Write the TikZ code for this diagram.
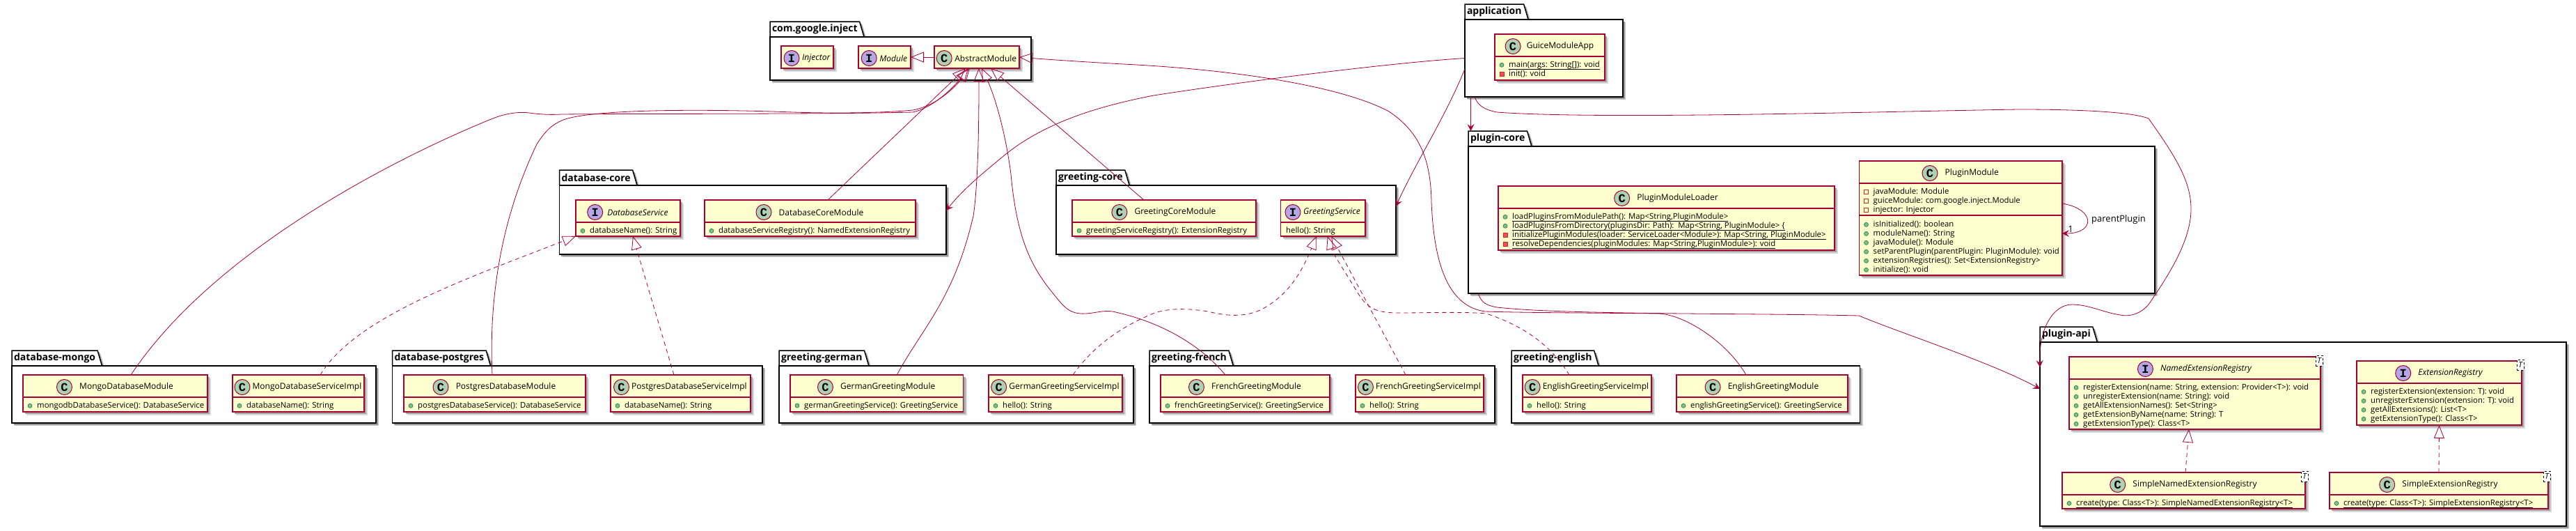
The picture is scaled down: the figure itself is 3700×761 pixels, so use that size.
\documentclass[tikz,border=0pt]{standalone}
\usepackage{fontspec}
\setmainfont{Open Sans}
\setmonofont{Liberation Mono}
\usepackage{xcolor}
\usepackage{tikz}
\usetikzlibrary{positioning,arrows.meta,shadows,backgrounds}
\definecolor{border}{HTML}{A80036}
\definecolor{clsfill}{HTML}{FEFECE}
\definecolor{spotc}{HTML}{ADD1B2}
\definecolor{spoti}{HTML}{B4A7E5}
\definecolor{pubfill}{HTML}{84BE84}
\definecolor{publine}{HTML}{038048}
\definecolor{privfill}{HTML}{F24D5C}
\definecolor{privline}{HTML}{C82930}
\newsavebox{\munderbox}
\newcommand{\munder}[1]{\sbox{\munderbox}{#1}\rlap{\rule[-3pt]{\wd\munderbox}{.9pt}}\usebox{\munderbox}}
\newcommand{\mpub}{\makebox[16pt][l]{\hspace{2.5pt}\tikz[baseline=-3.5pt]\filldraw[fill=pubfill,draw=publine,line width=.6pt] (0,0) circle[radius=3pt];}}
\newcommand{\mfld}{\makebox[16pt][l]{\hspace{2.5pt}\tikz[baseline=-3.5pt]\draw[draw=privline,line width=.8pt] (0,-3pt) rectangle (6pt,3pt);}}
\newcommand{\mprv}{\makebox[16pt][l]{\hspace{2.5pt}\tikz[baseline=-3.5pt]\filldraw[fill=privfill,draw=privline,line width=.6pt] (0,-3pt) rectangle (6pt,3pt);}}
\newcommand{\pkgnode}[6]{%
  \node[pkgtab,anchor=south west] (#1t) at (#2,#3) {#6};
  \begin{pgfonlayer}{background}
    \draw[tabline] (#1t.south west) -- (#1t.north west) -- (#1t.north east) -- ([xshift=6.5pt]#1t.south east);
  \end{pgfonlayer}
  \node[pkg,minimum width=#4pt,minimum height=#5pt,anchor=north west] (#1) at (#1t.south west) {};
}
\newcommand{\clsnode}[9]{%
  \node[cls,minimum width=#5pt,minimum height=#6pt,anchor=north west] (#1) at (#3,#4) {};
  \draw[clsline] ([yshift=-32pt]#1.north west) -- ([yshift=-32pt]#1.north east);
  \node[clsname] (#1n) at ([xshift={(22+#7)/2*1pt},yshift=-17.5pt]#1.north) {#8};
  \node[spot#2,left=#7pt of #1n] (#1s) {#2};
  \node[mem] (#1m) at ([xshift=4pt,yshift=-39pt]#1.north west) {#9};
}

\begin{document}
\begin{tikzpicture}[
  x=1pt,y=-1pt,
  pkgtab/.style={inner xsep=3pt,inner ysep=0pt,minimum height=22pt,outer sep=0pt,font=\fontsize{14}{16}\selectfont\bfseries},
  tabline/.style={draw=black,line width=1.5pt,fill=white,general shadow={fill=black!20,shadow xshift=4pt,shadow yshift=-4pt},general shadow={fill=black!40,shadow xshift=2.5pt,shadow yshift=-2.5pt}},
  pkg/.style={rectangle,draw=black,line width=1.5pt,fill=white,outer sep=0pt,inner sep=0pt,general shadow={fill=black!20,shadow xshift=4pt,shadow yshift=-4pt},general shadow={fill=black!40,shadow xshift=2.5pt,shadow yshift=-2.5pt}},
  cls/.style={rectangle,draw=border,line width=1.5pt,fill=clsfill,outer sep=0pt,inner sep=0pt,general shadow={fill=black!15,shadow xshift=5pt,shadow yshift=-5pt},general shadow={fill=black!35,shadow xshift=3pt,shadow yshift=-3pt}},
  clsline/.style={draw=border,line width=1.5pt},
  clsname/.style={inner sep=0pt,font=\fontsize{12}{14}\selectfont},
  mem/.style={anchor=north west,align=left,inner sep=0pt,font=\fontsize{11.35}{13}\selectfont},
  spotC/.style={circle,draw=border,line width=1pt,fill=spotc,minimum size=22pt,inner sep=0pt,font=\fontsize{17}{17}\ttfamily\bfseries},
  spotI/.style={spotC,fill=spoti},
  tpar/.style={rectangle,draw=black,dashed,line width=.7pt,fill=white,minimum width=10pt,minimum height=15pt,inner sep=0pt,font=\fontsize{11}{13}\selectfont\itshape},
  rel/.style={draw=border,line width=.8pt},
  ext/.style={rel,-{Triangle[open,length=19pt,width=15pt]}},
  impl/.style={ext,dash pattern=on 6pt off 5pt},
  dep/.style={rel,-{Stealth[length=10pt,width=10pt,inset=4pt]}}
]
\useasboundingbox (0,0) rectangle (3700,761);
\begin{pgfonlayer}{background}
  \fill[white] (0,0) rectangle (3700,761);
\end{pgfonlayer}
\pkgnode{cgi}{1106}{53}{375}{62}{com.google.inject}
\pkgnode{app}{2104}{28}{227}{111}{application}
\pkgnode{pcore}{2109}{210}{986}{211}{plugin-core}
\pkgnode{papi}{2930}{491}{756}{264}{plugin-api}
\pkgnode{dbcore}{803.5}{266}{555.5}{99}{database-core}
\pkgnode{gcore}{1517}{266}{488}{99}{greeting-core}
\pkgnode{dbm}{17}{525}{523}{82}{database-mongo}
\pkgnode{dbp}{563.5}{525}{531.5}{82}{database-postgres}
\pkgnode{gger}{1119}{525}{509}{82}{greeting-german}
\pkgnode{gfr}{1651}{525}{496}{82}{greeting-french}
\pkgnode{gen}{2171}{525}{500.5}{82}{greeting-english}

\clsnode{inj}{I}{1122}{66}{75}{32}{3.5}{\itshape Injector}{}
\clsnode{mod}{I}{1233}{66}{75}{32}{3.5}{\itshape Module}{}
\clsnode{abs}{C}{1342}{66}{122}{32}{3.5}{AbstractModule}{}
\clsnode{gapp}{C}{2147}{49}{158}{66}{8}{GuiceModuleApp}{\mpub\munder{main(args: String[]): void}\\\mprv init(): void}
\clsnode{loader}{C}{2152}{267}{483}{92}{10}{PluginModuleLoader}{\mpub\munder{loadPluginsFromModulePath(): Map<String,PluginModule>}\\\mpub\munder{loadPluginsFromDirectory(pluginsDir: Path):\ \ Map<String, PluginModule> \{}\\\mprv\munder{initializePluginModules(loader: ServiceLoader<Module>): Map<String, PluginModule>}\\\mprv\munder{resolveDependencies(pluginModules: Map<String,PluginModule>): void}}
\clsnode{plug}{C}{2670.5}{231}{291.5}{164}{10}{PluginModule}{\mfld javaModule: Module\\\mfld guiceModule: com.google.inject.Module\\\mfld injector: Injector}
\draw[clsline] ([yshift=-78pt]plug.north west) -- ([yshift=-78pt]plug.north east);
\node[mem] (plugo) at ([xshift=4pt,yshift=-86pt]plug.north west) {\mpub isInitialized(): boolean\\\mpub moduleName(): String\\\mpub javaModule(): Module\\\mpub setParentPlugin(parentPlugin: PluginModule): void\\\mpub extensionRegistries(): Set<ExtensionRegistry>\\\mpub initialize(): void};
\clsnode{ner}{I}{2972}{512}{361}{104}{10}{\itshape NamedExtensionRegistry}{\mpub registerExtension(name: String, extension: Provider<T>): void\\\mpub unregisterExtension(name: String): void\\\mpub getAllExtensionNames(): Set<String>\\\mpub getExtensionByName(name: String): T\\\mpub getExtensionType(): Class<T>}
\clsnode{ext}{I}{3385}{518}{237}{92}{10}{\itshape ExtensionRegistry}{\mpub registerExtension(extension: T): void\\\mpub unregisterExtension(extension: T): void\\\mpub getAllExtensions(): List<T>\\\mpub getExtensionType(): Class<T>}
\clsnode{sner}{C}{2962}{678}{349}{52}{10}{SimpleNamedExtensionRegistry}{\mpub\munder{create(type: Class<T>): SimpleNamedExtensionRegistry<T>}}
\clsnode{sext}{C}{3346}{678}{314}{52}{10}{SimpleExtensionRegistry}{\mpub\munder{create(type: Class<T>): SimpleExtensionRegistry<T>}}
\node[tpar] (nert) at ([xshift=-2pt,yshift=-5.5pt]ner.north east) {T};
\node[tpar] (extt) at ([xshift=-2pt,yshift=-5.5pt]ext.north east) {T};
\node[tpar] (snert) at ([xshift=-1pt,yshift=-5.5pt]sner.north east) {T};
\node[tpar] (sextt) at ([xshift=-2pt,yshift=-5.5pt]sext.north east) {T};
\clsnode{dbs}{I}{827}{287}{150}{52}{6}{\itshape DatabaseService}{\mpub databaseName(): String}
\clsnode{dbcm}{C}{1012}{287}{303}{52}{10}{DatabaseCoreModule}{\mpub databaseServiceRegistry(): NamedExtensionRegistry}
\clsnode{gcm}{C}{1540}{287}{264}{52}{10}{GreetingCoreModule}{\mpub greetingServiceRegistry(): ExtensionRegistry}
\clsnode{gs}{I}{1839.5}{287}{121.5}{52}{3.5}{\itshape GreetingService}{\hspace*{3.5pt}hello(): String}
\clsnode{mm}{C}{33}{538}{265}{53}{10}{MongoDatabaseModule}{\mpub mongodbDatabaseService(): DatabaseService}
\clsnode{mi}{C}{334}{538}{189}{53}{3}{MongoDatabaseServiceImpl}{\mpub databaseName(): String}
\clsnode{pm}{C}{580}{538}{261}{53}{10}{PostgresDatabaseModule}{\mpub postgresDatabaseService(): DatabaseService}
\clsnode{pi}{C}{877}{538}{201}{53}{3}{PostgresDatabaseServiceImpl}{\mpub databaseName(): String}
\clsnode{gm}{C}{1135}{538}{248.5}{53}{10}{GermanGreetingModule}{\mpub germanGreetingService(): GreetingService}
\clsnode{gi}{C}{1420}{538}{192}{53}{3}{GermanGreetingServiceImpl}{\mpub hello(): String}
\clsnode{fm}{C}{1667}{538}{243}{53}{10}{FrenchGreetingModule}{\mpub frenchGreetingService(): GreetingService}
\clsnode{fi}{C}{1947}{538}{184}{53}{3}{FrenchGreetingServiceImpl}{\mpub hello(): String}
\clsnode{ei}{C}{2187}{538}{185}{53}{3}{EnglishGreetingServiceImpl}{\mpub hello(): String}
\clsnode{em}{C}{2408}{538}{246}{53}{10}{EnglishGreetingModule}{\mpub englishGreetingService(): GreetingService}

\draw[ext] (abs.west) -- (mod.east);
\draw[ext] ([xshift=25.5pt]dbcm.north) -- ([xshift=-16pt]abs.south);
\draw[ext] ([xshift=-29pt]gcm.north) -- ([xshift=20pt]abs.south);
\draw[ext] ([xshift=22.5pt]mm.north) .. controls (320,340) and (620,205) .. (708,170) .. controls (725,163) and (745,160) .. (760,162) .. controls (775,164) and (790,165) .. (806,164) .. controls (900,163) and (1200,164) .. (1311,161) .. controls (1340,155) and (1370,125) .. ([xshift=-12pt]abs.south);
\draw[ext] ([xshift=-3.5pt]pm.north) .. controls (703,450) and (712,330) .. (771,207) .. controls (785,185) and (795,178) .. (809,172) .. controls (850,157) and (1000,156) .. (1139,161) .. controls (1200,163) and (1270,162) .. (1311,158) .. controls (1345,152) and (1372,125) .. ([xshift=-10pt]abs.south);
\draw[ext] ([xshift=29pt]gm.north) .. controls (1325,470) and (1370,430) .. (1398,310) .. controls (1404,270) and (1406,200) .. ([xshift=3pt]abs.south);
\draw[ext] ([xshift=-28.5pt]fm.north) .. controls (1720,490) and (1660,460) .. (1598,447) .. controls (1585,445) and (1575,449) .. (1560,450) .. controls (1545,451) and (1535,447) .. (1525,436) .. controls (1490,395) and (1462,360) .. (1452,250) .. controls (1445,195) and (1430,140) .. ([xshift=7pt]abs.south);
\draw[ext] ([xshift=-23pt]em.north) .. controls (2480,490) and (2420,452) .. (2383,450) .. controls (2300,449) and (2200,449) .. (2133,447) .. controls (2085,440) and (2060,390) .. (2056,290) .. controls (2055,230) and (2040,190) .. (1995,160) .. controls (1930,125) and (1780,100) .. (1613,92) .. controls (1560,89) and (1500,85) .. (abs.east);

\draw[impl] ([xshift=31.5pt]mi.north) .. controls (510,455) and (670,400) .. (dbs.south west);
\draw[impl] ([xshift=-9.5pt]pi.north) -- ([xshift=7pt]dbs.south);
\draw[impl] ([xshift=25pt]gi.north) .. controls (1575,490) and (1620,465) .. (1656,450) .. controls (1680,441) and (1710,443) .. (1735,447) .. controls (1760,453) and (1785,456) .. (1810,445) .. controls (1850,425) and (1870,390) .. ([xshift=-9.5pt]gs.south);
\draw[impl] ([xshift=-20pt]fi.north) -- ([xshift=12pt]gs.south);
\draw[impl] ([xshift=-25.5pt]ei.north) .. controls (2225,490) and (2180,465) .. (2135,450) .. controls (2100,447) and (2050,449) .. (2010,449) .. controls (1980,449) and (1965,445) .. (1950,420) .. controls (1932,390) and (1915,365) .. ([xshift=6.5pt]gs.south);
\draw[impl] ([xshift=2.5pt]sner.north) -- ([xshift=-8.5pt]ner.south);
\draw[impl] (sext.north) -- (ext.south);

\draw[dep] (app.west) .. controls (2000,90) and (1800,115) .. (1657,137) .. controls (1580,152) and (1500,175) .. (1440,225) .. controls (1410,250) and (1385,270) .. ([yshift=13.5pt]dbcore.east);
\draw[dep] ([yshift=-15.5pt]app.west) .. controls (2075,170) and (2035,230) .. ([yshift=19.5pt]gcore.east);
\draw[dep] ([xshift=-105pt]app.south) -- ([xshift=3.5pt]pcoret.north west);
\draw[dep] ([xshift=-99.5pt]app.south) .. controls (2122,150) and (2130,157) .. (2150,161) .. controls (2300,172) and (2700,160) .. (2900,157) .. controls (2980,157) and (3060,160) .. (3086,170) .. controls (3125,225) and (3147,260) .. (3147,300) .. controls (3147,345) and (3115,395) .. (3086,437) .. controls (3075,450) and (3060,455) .. (3045,452) .. controls (3020,448) and (3000,437) .. (2976,437) .. controls (2950,437) and (2928,470) .. ([yshift=96pt]papi.west);
\draw[dep] ([xshift=-479pt]pcore.south) .. controls (2128,435) and (2135,438) .. (2150,441) .. controls (2250,452) and (2500,449) .. (2670,453) .. controls (2730,478) and (2860,520) .. ([yshift=65pt]papi.west);
\draw[dep] ([yshift=21pt]plug.east) .. controls (3010,300) and (3010,335) .. ([yshift=-22pt]plug.east);
\node[clsname,font=\fontsize{13}{15}\selectfont] (parentl) at (3043,315) {parentPlugin};
\node[clsname,font=\fontsize{13}{15}\selectfont] (onel) at (2974,329) {1};
\end{tikzpicture}
\end{document}
